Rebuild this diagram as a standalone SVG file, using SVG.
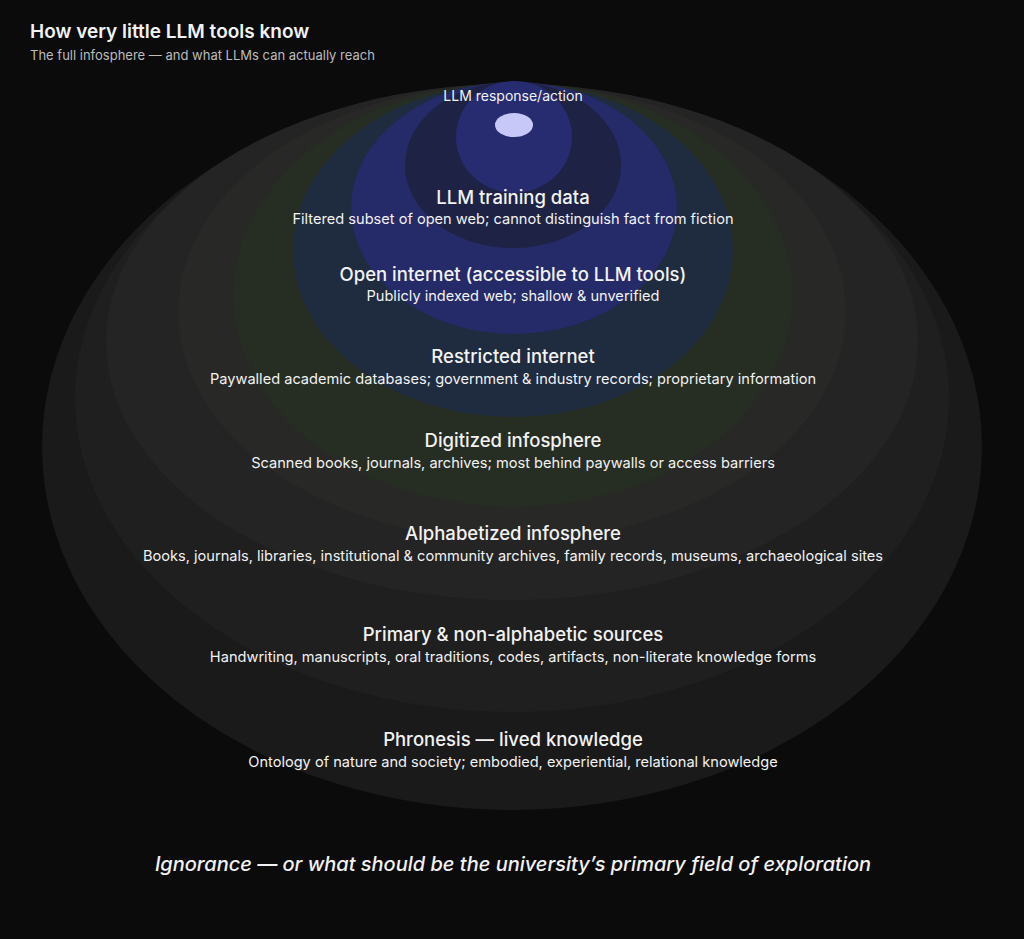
<svg xmlns="http://www.w3.org/2000/svg" width="1024" height="939" viewBox="0 0 1024 939">
<style>
text{font-family:Inter,"Noto Sans",sans-serif;fill:#f2f2f2;text-anchor:middle}
.h{font-size:18.5px;font-weight:500}
.s{font-size:14.6px}
</style>
<rect width="1024" height="939" fill="#0b0b0b"/>
<g id="phronesis"><ellipse cx="512" cy="447" rx="470" ry="363" fill="#1a1a1a"/></g>
<g id="primary"><ellipse cx="512" cy="398" rx="437" ry="314" fill="#1f1f1f"/></g>
<g id="alphabetized"><ellipse cx="512" cy="342" rx="406" ry="258" fill="#242424"/></g>
<g id="digitized"><ellipse cx="512" cy="312" rx="334" ry="228" fill="#282826"/></g>
<g id="green"><ellipse cx="513" cy="295" rx="280" ry="212" fill="#262d22"/></g>
<g id="restricted"><ellipse cx="513" cy="250" rx="220" ry="167" fill="#1f2b3e"/></g>
<g id="open"><ellipse cx="514" cy="208" rx="163" ry="126" fill="#252a68"/></g>
<g id="training"><ellipse cx="513" cy="165" rx="108" ry="83" fill="#1e2346"/></g>
<g id="inner"><ellipse cx="514" cy="137" rx="58" ry="56" fill="#272b70"/></g>
<g id="response"><ellipse cx="514" cy="125" rx="19" ry="12" fill="#c8c8f8"/></g>
<g id="labels">
<text x="30" y="38" style="text-anchor:start;font-size:19px;font-weight:600">How very little LLM tools know</text>
<text x="30" y="60" style="text-anchor:start;font-size:13px;fill:#bbb">The full infosphere — and what LLMs can actually reach</text>
<text x="513" y="101" style="font-size:14px">LLM response/action</text>
<text class="h" x="513" y="204">LLM training data</text>
<text class="s" x="513" y="224">Filtered subset of open web; cannot distinguish fact from fiction</text>
<text class="h" x="513" y="281">Open internet (accessible to LLM tools)</text>
<text class="s" x="513" y="301">Publicly indexed web; shallow &amp; unverified</text>
<text class="h" x="513" y="363">Restricted internet</text>
<text class="s" x="513" y="384">Paywalled academic databases; government &amp; industry records; proprietary information</text>
<text class="h" x="513" y="447">Digitized infosphere</text>
<text class="s" x="513" y="468">Scanned books, journals, archives; most behind paywalls or access barriers</text>
<text class="h" x="513" y="540">Alphabetized infosphere</text>
<text class="s" x="513" y="561">Books, journals, libraries, institutional &amp; community archives, family records, museums, archaeological sites</text>
<text class="h" x="513" y="641">Primary &amp; non-alphabetic sources</text>
<text class="s" x="513" y="662">Handwriting, manuscripts, oral traditions, codes, artifacts, non-literate knowledge forms</text>
<text class="h" x="513" y="746">Phronesis — lived knowledge</text>
<text class="s" x="513" y="767">Ontology of nature and society; embodied, experiential, relational knowledge</text>
<text x="513" y="871" style="font-size:20px;font-style:italic;font-weight:500">Ignorance — or what should be the university’s primary field of exploration</text>
</g>
</svg>
